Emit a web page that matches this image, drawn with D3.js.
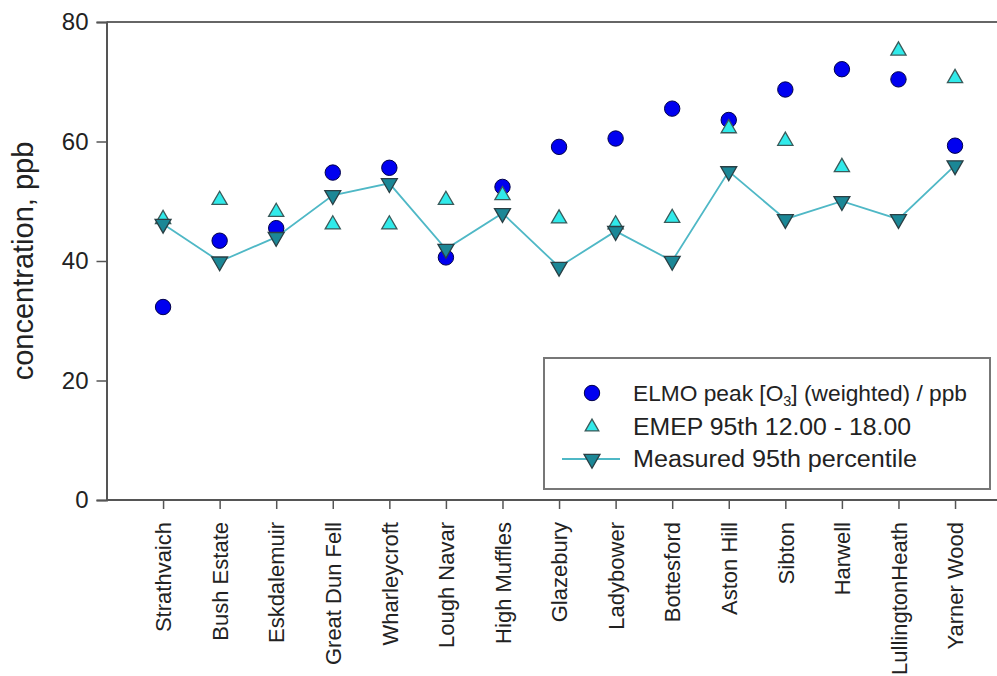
<!DOCTYPE html>
<html>
<head>
<meta charset="utf-8">
<script src="https://cdn.jsdelivr.net/npm/d3@7"></script>
<style>
  html, body { margin: 0; padding: 0; background: #fff; }
  svg { display: block; }
  text { font-family: "Liberation Sans", Arial, sans-serif; fill: #222; }
</style>
</head>
<body>
<div id="chart"></div>
<script>
const sites = ["Strathvaich", "Bush Estate", "Eskdalemuir", "Great Dun Fell", "Wharleycroft",
  "Lough Navar", "High Muffles", "Glazebury", "Ladybower", "Bottesford", "Aston Hill",
  "Sibton", "Harwell", "LullingtonHeath", "Yarner Wood"];
const elmoPeak = [32.3, 43.4, 45.5, 54.8, 55.6, 40.6, 52.4, 59.1, 60.5, 65.5, 63.6, 68.7, 72.1, 70.4, 59.3];
const emep95 = [47.0, 50.2, 48.2, 46.1, 46.1, 50.2, 51.0, 47.1, 46.1, 47.2, 62.2, 60.1, 55.7, 75.2, 70.6];
const measured95 = [46.2, 39.9, 44.0, 51.0, 53.0, 42.0, 48.0, 39.0, 45.0, 40.0, 55.0, 47.0, 50.0, 47.0, 56.0];
const yTicks = [0, 20, 40, 60, 80];
const legendLabels = ["ELMO peak [O3] (weighted) / ppb", "EMEP 95th 12.00 - 18.00", "Measured 95th percentile"];

const W = 997, H = 676;
const mLeft = 106.5, mTop = 22, mBottom = 500, mRight = 1011.6;

const svg = d3.select("#chart").append("svg").attr("width", W).attr("height", H);

const x = d3.scalePoint().domain(sites).range([mLeft, mRight]).padding(1);
const y = d3.scaleLinear().domain([0, 80]).range([mBottom, mTop]);

// top frame line
svg.append("line").attr("x1", mLeft).attr("x2", mRight).attr("y1", y(80)).attr("y2", y(80))
  .attr("stroke", "#666").attr("stroke-width", 2);

// Y axis
const yAxis = svg.append("g").attr("transform", `translate(${mLeft},0)`)
  .call(d3.axisLeft(y).tickValues(yTicks).tickSize(10).tickPadding(8).tickFormat(d3.format("d")));
yAxis.select(".domain").attr("stroke", "#555").attr("stroke-width", 2);
yAxis.selectAll(".tick line").attr("stroke", "#555").attr("stroke-width", 1.5);
yAxis.selectAll(".tick text").style("font-size", "24px").attr("fill", "#222")
  .style("font-family", "Liberation Sans, Arial, sans-serif");

// X axis
const xAxis = svg.append("g").attr("transform", `translate(0,${mBottom})`)
  .call(d3.axisBottom(x).tickSize(9).tickPadding(0));
xAxis.select(".domain").attr("d", `M${mLeft},0H${mRight}`).attr("stroke", "#555").attr("stroke-width", 2);
xAxis.selectAll(".tick line").attr("stroke", "#555").attr("stroke-width", 1.5);
xAxis.selectAll(".tick text")
  .style("font-size", "22px").attr("fill", "#222")
  .style("font-family", "Liberation Sans, Arial, sans-serif")
  .attr("text-anchor", "end")
  .attr("transform", "translate(0,22) rotate(-90)")
  .attr("x", 0).attr("y", 0).attr("dy", "0.35em");

// Y label
svg.append("text")
  .attr("transform", `translate(33,${(mTop + mBottom) / 2}) rotate(-90)`)
  .attr("text-anchor", "middle")
  .style("font-size", "29px")
  .text("concentration, ppb");

const triSize = 100;
function tri(s) { return d3.symbol().type(d3.symbolTriangle).size(s)(); }

const plot = svg.append("g");

// measured line
const line = d3.line().x((d, i) => x(sites[i])).y(d => y(d));
plot.append("path").datum(measured95).attr("d", line)
  .attr("fill", "none").attr("stroke", "#4fb8c6").attr("stroke-width", 1.8);

// ELMO circles
plot.selectAll("circle.elmo").data(elmoPeak).enter().append("circle")
  .attr("class", "elmo")
  .attr("cx", (d, i) => x(sites[i])).attr("cy", d => y(d)).attr("r", 7.7)
  .attr("fill", "#0000f0").attr("stroke", "#00004a").attr("stroke-width", 1);

// EMEP up triangles
plot.selectAll("path.emep").data(emep95).enter().append("path")
  .attr("class", "emep")
  .attr("d", tri(triSize))
  .attr("transform", (d, i) => `translate(${x(sites[i])},${y(d)})`)
  .attr("fill", "#30eaea").attr("stroke", "#3a5a5a").attr("stroke-width", 1.3);

// Measured down triangles
plot.selectAll("path.meas").data(measured95).enter().append("path")
  .attr("class", "meas")
  .attr("d", tri(triSize + 10))
  .attr("transform", (d, i) => `translate(${x(sites[i])},${y(d)}) rotate(180)`)
  .attr("fill", "#1b8796").attr("stroke", "#2a3f44").attr("stroke-width", 1.3);

// Legend
const lg = svg.append("g");
lg.append("rect").attr("x", 544).attr("y", 358).attr("width", 446).attr("height", 131)
  .attr("fill", "#fff").attr("stroke", "#777").attr("stroke-width", 2);
const rowsY = [393, 427, 459];
const symX = 592, textX = 633;
lg.append("circle").attr("cx", symX).attr("cy", rowsY[0]).attr("r", 7.7)
  .attr("fill", "#0000f0").attr("stroke", "#00004a");
lg.append("path").attr("d", tri(80)).attr("transform", `translate(${symX},${rowsY[1]})`)
  .attr("fill", "#30eaea").attr("stroke", "#3a5a5a").attr("stroke-width", 1.3);
lg.append("line").attr("x1", 562).attr("x2", 620).attr("y1", rowsY[2]).attr("y2", rowsY[2])
  .attr("stroke", "#4fb8c6").attr("stroke-width", 1.8);
lg.append("path").attr("d", tri(triSize + 10)).attr("transform", `translate(${symX},${rowsY[2]}) rotate(180)`)
  .attr("fill", "#1b8796").attr("stroke", "#2a3f44").attr("stroke-width", 1.3);

const t0 = lg.append("text").attr("x", textX).attr("y", rowsY[0]).attr("dy", "0.35em")
  .style("font-size", "22px").attr("textLength", 334).attr("lengthAdjust", "spacingAndGlyphs");
t0.append("tspan").text("ELMO peak [O");
t0.append("tspan").text("3").style("font-size", "14px").attr("dy", "5");
t0.append("tspan").text("] (weighted) / ppb").attr("dy", "-5");
lg.append("text").attr("x", textX).attr("y", rowsY[1]).attr("dy", "0.35em").style("font-size", "23px")
  .attr("textLength", 278).attr("lengthAdjust", "spacingAndGlyphs").text(legendLabels[1]);
lg.append("text").attr("x", textX).attr("y", rowsY[2]).attr("dy", "0.35em").style("font-size", "23px")
  .attr("textLength", 284).attr("lengthAdjust", "spacingAndGlyphs").text(legendLabels[2]);
</script>
</body>
</html>
